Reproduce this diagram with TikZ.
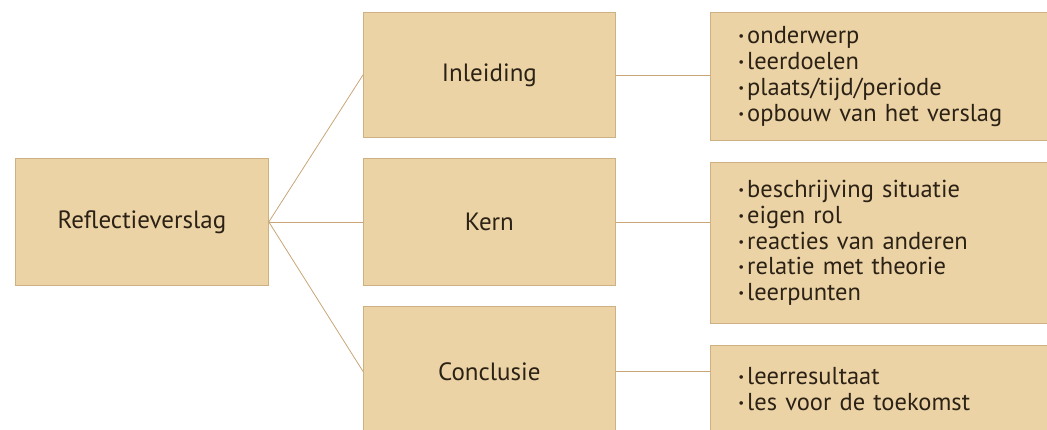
\documentclass[tikz,border=0pt]{standalone}
\usepackage{fontspec}
\setmainfont{PT Sans}
\usetikzlibrary{positioning}
\definecolor{zand}{HTML}{EBD3A6}
\definecolor{rand}{HTML}{CDB183}
\definecolor{lijn}{HTML}{C8A677}
\definecolor{inkt}{HTML}{2B2115}
\newcommand{\stip}{\raisebox{0.12em}{\fontsize{13}{13}\selectfont\textbullet}\hspace{0.12em}}

\begin{document}
\begin{tikzpicture}[x=1pt, y=-1pt, font=\fontsize{25}{25}\selectfont,
		blok/.style={draw=rand, fill=zand, text=inkt, line width=0.8pt, anchor=north west, inner sep=0pt},
		kop/.style={blok, minimum width=252pt},
		lijst/.style={blok, align=left, text width=290pt, inner xsep=28pt,
			font=\fontsize{24.5}{25.8}\selectfont},
		verbinding/.style={draw=lijn, line width=0.8pt}]
				\useasboundingbox (0,0) rectangle (1047,429);
				\clip (0,0) rectangle (1047,429);
				% linkerkolom
				\node[blok, minimum width=253pt, minimum height=127pt] (verslag) at (15,158) {Reflectieverslag};
				% middelste kolom
				\node[kop, minimum height=125pt] (inleiding) at (363,12) {Inleiding};
				\node[kop, minimum height=127pt] (kern) at (363,158) {Kern};
				\node[kop, minimum height=130pt] (conclusie) at (363,306) {Conclusie};
				% rechterkolom
				\node[lijst, minimum height=128pt] (inleidingLijst) at (710,12)
					{\stip onderwerp\\ \stip leerdoelen\\ \stip plaats/tijd/periode\\ \stip opbouw van het verslag};
				\node[lijst, minimum height=161pt] (kernLijst) at (710,162)
					{\stip beschrijving situatie\\ \stip eigen rol\\ \stip reacties van anderen\\ \stip relatie met theorie\\ \stip leerpunten};
				\node[lijst, minimum height=88pt] (conclusieLijst) at (710,345)
					{\stip leerresultaat\\ \stip les voor de toekomst};
				% lijnen
				\draw[verbinding] (verslag.east) -- (inleiding.west);
				\draw[verbinding] (verslag.east) -- (kern.west);
				\draw[verbinding] (verslag.east) -- (conclusie.west);
				\draw[verbinding] (inleiding.east) -- (inleiding.east -| inleidingLijst.west);
				\draw[verbinding] (kern.east) -- (kern.east -| kernLijst.west);
				\draw[verbinding] (conclusie.east) -- (conclusie.east -| conclusieLijst.west);
			\end{tikzpicture}
\end{document}
